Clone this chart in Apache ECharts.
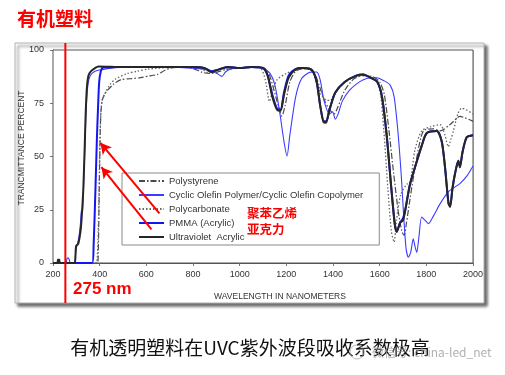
<!DOCTYPE html>
<html>
<head>
<meta charset="utf-8">
<script src="https://cdn.jsdelivr.net/npm/echarts@6/dist/echarts.min.js"></script>
<style>
html,body{margin:0;padding:0;background:#fff;}
#c{width:505px;height:375px;}
</style>
</head>
<body>
<div id="c"></div>
<script>
// ---- data (wavelength nm, transmittance %) ----
const seriesNames = ['Polystyrene', 'Cyclic Olefin Polymer/Cyclic Olefin Copolymer', 'Polycarbonate', 'PMMA (Acrylic)', 'Ultraviolet  Acrylic'];
const xTicks = [200, 400, 600, 800, 1000, 1200, 1400, 1600, 1800, 2000];
const yTicks = [0, 25, 50, 75, 100];

const polystyrene = [[200,0],[390,0],[394,5],[399,40],[404,68],[410,76],[420,79],[433,81],[460,84],[489,86],[530,86.5],[575,87],[620,88],[647,88.5],[680,90.5],[703,91.5],[750,92],[800,91.3],[840,89.5],[870,89],[900,89.5],[940,90.8],[1000,91.5],[1050,92],[1100,91.8],[1125,89],[1145,82],[1165,74],[1181,69],[1195,74],[1215,85],[1240,90],[1272,91.3],[1300,91],[1325,88],[1345,82],[1365,76],[1385,72],[1405,70],[1420,73],[1450,81],[1490,86.5],[1530,88],[1570,87.5],[1600,85],[1620,79],[1640,62],[1660,42],[1680,24],[1695,15],[1705,13],[1715,19],[1730,30],[1755,47],[1787,62],[1830,63],[1859,62],[1902,65],[1944,68.8],[2000,66.5]];

const cyclicOlefin = [[200,0],[255,0],[260,2],[265,2.5],[270,1.5],[274,0],[292,0],[298,6],[305,9],[312,13],[318,19],[322,25],[326,23],[330,33],[336,52],[342,72],[350,84],[360,88],[380,90],[410,90.8],[450,91.5],[520,92],[800,91.5],[870,90.5],[905,88.8],[924,87.6],[940,89.8],[970,91.3],[1050,91.8],[1100,91.5],[1130,89],[1150,84],[1170,72],[1190,57],[1203,50.2],[1215,60],[1240,78],[1265,86.5],[1300,89.5],[1330,89.7],[1345,86],[1362,76],[1385,70],[1398,71],[1410,67.5],[1422,70],[1440,76],[1470,81],[1500,84],[1530,86],[1560,87],[1588,87],[1620,85.5],[1645,83.5],[1662,78],[1678,62],[1692,42],[1703,22],[1713,7],[1723,2.7],[1733,5],[1744,11.4],[1751,8],[1759,5],[1768,12],[1780,21.6],[1795,20],[1809,18.5],[1830,22],[1860,28],[1894,33.4],[1920,35.5],[1944,37.3],[1975,41],[2000,45.5]];

const polycarbonate = [[200,0],[385,0],[390,3],[395,20],[400,50],[405,70],[410,76],[420,79],[446,84],[470,86.5],[519,89],[560,90],[605,91],[700,91.8],[800,92],[840,91],[861,89.5],[880,90],[920,91],[1000,91.5],[1050,92],[1090,91.5],[1110,86],[1128,75.8],[1140,80],[1160,86],[1200,89],[1250,91],[1280,91.5],[1310,90],[1330,85],[1350,79],[1370,76.5],[1388,76.3],[1410,80],[1450,85],[1500,87.5],[1540,88],[1575,86.5],[1600,82],[1618,62],[1635,35],[1650,15],[1662,9.8],[1672,20],[1690,32],[1716,37],[1730,37.5],[1751,53],[1780,62],[1820,64],[1859,65],[1880,60],[1894,54.6],[1905,58],[1916,62],[1935,70],[1952,72.7],[2000,70]];

const pmma = [[200,0],[368,0],[374,8],[382,35],[388,58],[393,73],[398,85],[405,90],[415,91.8],[500,92],[800,92],[850,91.5],[880,90],[900,90.5],[950,92],[1000,91.5],[1050,92],[1100,91.5],[1120,88],[1140,79],[1160,72.5],[1175,72],[1190,80],[1210,88],[1240,91],[1270,91.5],[1310,90.5],[1330,85],[1345,74],[1360,66.5],[1370,66.5],[1385,72],[1410,80],[1450,85],[1500,88],[1530,88.5],[1560,87],[1590,85],[1610,78],[1630,60],[1650,35],[1665,18],[1673,15],[1688,19],[1700,21],[1710,25],[1730,37],[1760,48],[1780,55],[1802,61],[1845,62],[1866,57],[1880,45],[1895,28],[1902,27],[1912,35],[1923,42],[1937,48],[1944,45],[1955,52],[1973,59],[2000,60]];

const uvAcrylic = [[200,0],[219,0],[221,1.5],[227,1.5],[229,0],[290,0],[295,1],[299,8],[308,9],[314,12],[320,17],[325,25],[330,35],[336,55],[340,70],[345,82],[352,88],[362,90],[380,91.5],[395,92.3],[500,92],[700,92],[800,92],[850,91.5],[880,89.5],[900,90.5],[950,92],[1000,91.5],[1050,92],[1100,91.5],[1120,88],[1140,78],[1160,72],[1175,71.5],[1190,79],[1210,87],[1240,91],[1270,91.5],[1310,90.5],[1330,85],[1345,74],[1360,66],[1370,65.8],[1385,72],[1410,80],[1450,85],[1500,88],[1530,88.5],[1560,87],[1590,85],[1610,78],[1630,60],[1650,35],[1665,18],[1673,14.5],[1688,19],[1700,20],[1710,25],[1730,37],[1760,48],[1780,55],[1802,61],[1845,62],[1866,57],[1880,45],[1895,28],[1902,26.3],[1912,35],[1923,42],[1937,48],[1944,45],[1955,52],[1973,59],[2000,60]];

// annotation points (data coords)
const arrows = [[[656,23.3],[403,56.4]], [[622,15.8],[407.6,45]]];
const cutLineNm = 253;

const chart = echarts.init(document.getElementById('c'), null, {renderer:'canvas'});
const sans = 'Liberation Sans, Arial, sans-serif';
const cjk = '"Noto Sans CJK SC", sans-serif';

function mkLine(name, data, color, width, type, z){
  return {name, type:'line', data, showSymbol:false, symbol:'none', smooth:0.25, z:z,
    lineStyle:{color, width, type}, itemStyle:{color}, animation:false};
}

const option = {
  animation:false,
  grid:{left:53, top:50, right:32, bottom:112, show:true, borderColor:'#555', borderWidth:1, backgroundColor:'#fff', z:1},
  xAxis:{type:'value', min:200, max:2000, interval:200,
    axisLine:{show:true, lineStyle:{color:'#555'}},
    axisTick:{show:true, length:3, lineStyle:{color:'#777'}},
    axisLabel:{fontSize:9, color:'#333', margin:7, fontFamily:sans, formatter:(v)=>String(v)},
    splitLine:{show:true, lineStyle:{color:'#c4c4c4', width:1}}},
  yAxis:{type:'value', min:0, max:100, interval:25,
    axisLine:{show:true, lineStyle:{color:'#555'}},
    axisTick:{show:true, length:3, lineStyle:{color:'#777'}},
    axisLabel:{fontSize:9, color:'#333', margin:9, fontFamily:sans, formatter:(v)=>String(v)},
    splitLine:{show:true, lineStyle:{color:'#c4c4c4', width:1}}},
  legend:{data:seriesNames, orient:'vertical', left:122, top:173, itemWidth:25, itemHeight:12, itemGap:4,
    padding:[3,16,3,16], backgroundColor:'#fff', borderColor:'#8a8a8a', borderWidth:1, borderRadius:0,
    itemStyle:{opacity:0, color:'rgba(0,0,0,0)', borderColor:'rgba(0,0,0,0)', borderWidth:0},
    textStyle:{fontSize:9.5, color:'#333', fontFamily:sans}, selectedMode:false, z:5},
  series:[
    mkLine(seriesNames[0], polystyrene, '#4a4a4a', 1.2, [6,2,1.5,2], 2),
    mkLine(seriesNames[1], cyclicOlefin, '#3c3cff', 1.1, 'solid', 2),
    mkLine(seriesNames[2], polycarbonate, '#666', 1.3, [1.5,2], 2),
    mkLine(seriesNames[3], pmma, '#1515f0', 2, 'solid', 2),
    mkLine(seriesNames[4], uvAcrylic, '#262626', 2, 'solid', 3),
    {name:'arrows', type:'line', data:[[400,50]], showSymbol:false, symbol:'none', z:10,
      lineStyle:{opacity:0}, silent:true,
      markLine:{silent:true, symbol:['none','arrow'], symbolSize:[9,11], animation:false,
        label:{show:false}, lineStyle:{color:'#ff0000', width:2, type:'solid'},
        data: arrows.map(a => [{coord:a[0]}, {coord:a[1]}])}}
  ]
};
chart.setOption(option);

const px = chart.convertToPixel({gridIndex:0}, [cutLineNm, 0])[0];
chart.setOption({graphic:[
  {type:'rect', shape:{x:15, y:43, width:469, height:260}, z:-10, zlevel:0,
    style:{fill:'#fff', stroke:'#b0b0b0', lineWidth:1, shadowBlur:3, shadowOffsetX:3, shadowOffsetY:3, shadowColor:'rgba(0,0,0,0.6)'}},
  {type:'text', left:17, top:9, z:20, style:{text:'有机塑料', font:'bold 19px '+cjk, fill:'#ff0000'}},
  {type:'text', x:22, y:148, rotation:Math.PI/2, z:20,
    style:{text:'TRANCMITTANCE PERCENT', font:'8.5px '+sans, fill:'#333', align:'center', verticalAlign:'middle'}},
  {type:'text', x:280, y:297, z:20,
    style:{text:'WAVELENGTH IN NANOMETERS', font:'8.5px '+sans, fill:'#333', align:'center', verticalAlign:'middle'}},
  {type:'text', x:73, y:289, z:20,
    style:{text:'275 nm', font:'bold 17px '+sans, fill:'#ff0000', align:'left', verticalAlign:'middle'}},
  {type:'text', x:247, y:213, z:20,
    style:{text:'聚苯乙烯', font:'bold 12.5px '+cjk, fill:'#ff0000', align:'left', verticalAlign:'middle'}},
  {type:'text', x:247, y:229, z:20,
    style:{text:'亚克力', font:'bold 12.5px '+cjk, fill:'#ff0000', align:'left', verticalAlign:'middle'}},
  {type:'text', x:250, y:348, z:20,
    style:{text:'有机透明塑料在UVC紫外波段吸收系数极高', font:'19px '+cjk, fill:'#111', align:'center', verticalAlign:'middle'}},
  {type:'text', x:372, y:352, z:21,
    style:{text:'微信号: china-led_net', font:'12px '+cjk, fill:'rgba(150,150,150,0.75)', align:'left', verticalAlign:'middle'}},
  {type:'circle', shape:{cx:357, cy:352, r:7}, z:21,
    style:{fill:'none', stroke:'rgba(160,160,160,0.7)', lineWidth:1}},
  {type:'line', shape:{x1:px, y1:43, x2:px, y2:303}, z:30,
    style:{stroke:'#ff0000', lineWidth:2}}
]});
</script>
</body>
</html>
